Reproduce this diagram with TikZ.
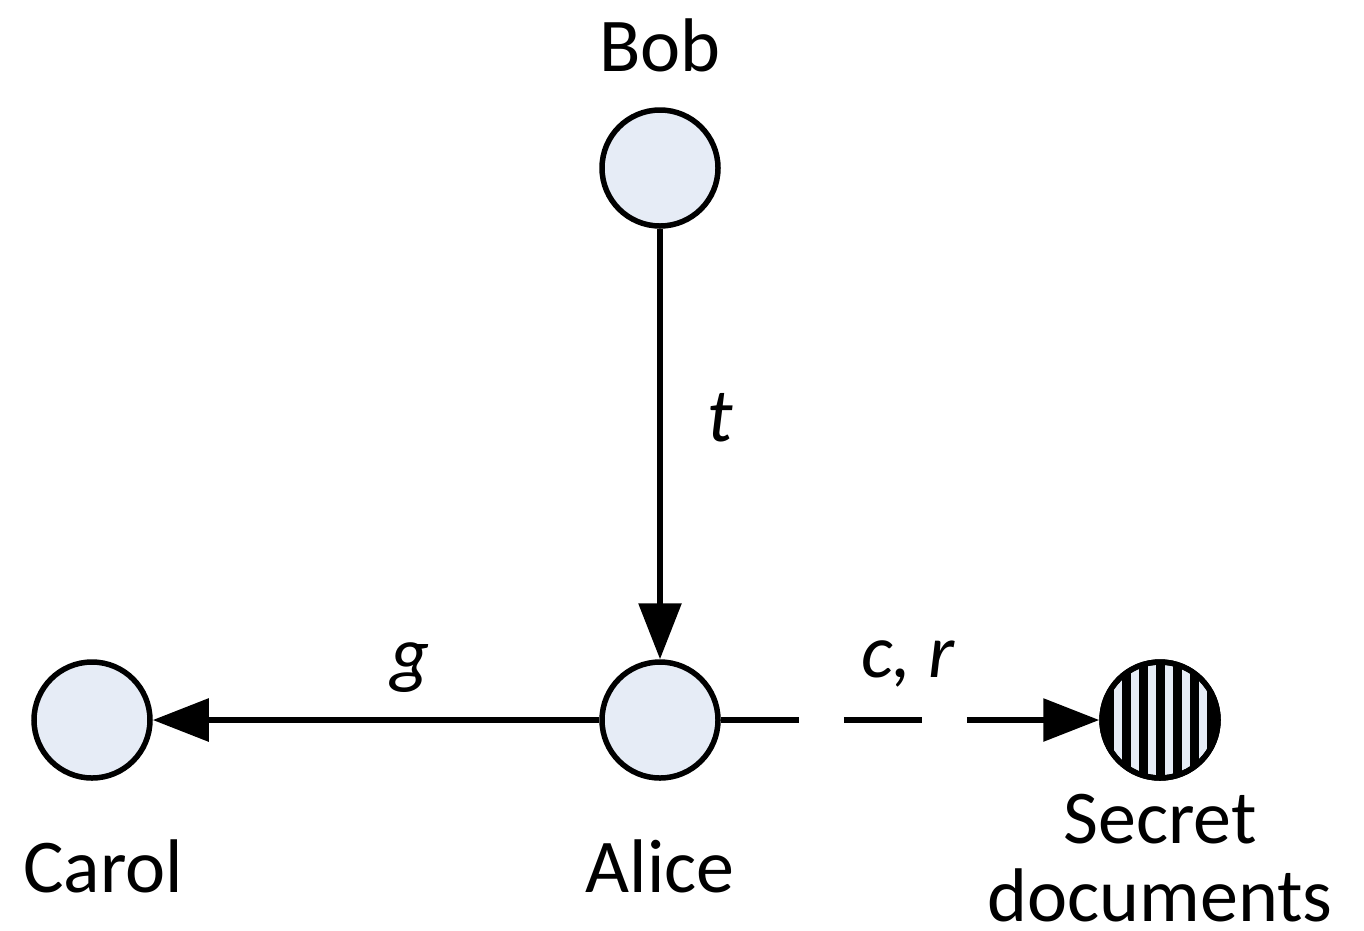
\documentclass[tikz,border=0pt]{standalone}
\usepackage{fontspec}
\setmainfont{Carlito}
\usetikzlibrary{arrows.meta,calc}
\definecolor{nodefill}{HTML}{E6ECF6}
\tikzset{
  party/.style={circle, draw=black, line width=5.5pt, fill=nodefill, minimum size=116pt, inner sep=0pt},
  partyname/.style={font=\fontsize{76}{84}\selectfont, align=center},
  edgelabel/.style={font=\fontsize{76}{84}\selectfont\itshape},
  flow/.style={line width=6pt, -{Triangle[length=56pt,width=42pt]}},
}
\begin{document}
\begin{tikzpicture}[x=1pt,y=-1pt]
  \useasboundingbox (0,0) rectangle (1364,930);
  % parties
  \node[party] (bob) at (660,168) {};
  \node[party] (alice) at (660,720) {};
  \node[party] (carol) at (92,720) {};
  \node[party] (secret) at (1160,720) {};
  % vertical hatching of the document node
  \begin{scope}
    \clip (secret.center) circle (58pt);
    \foreach \i in {-4,...,4}
      \draw[line width=9pt] ($(secret.center)+(\i*17,-70)$) -- ++(0,140);
  \end{scope}
  \draw[line width=5.5pt] (secret.center) circle (58pt);
  % names
  \node[partyname] (bobname) at (660,45) {Bob};
  \node[partyname] (carolname) at (103,866) {Carol};
  \node[partyname] (alicename) at (660,866) {Alice};
  \node[partyname, font=\fontsize{76}{78}\selectfont] (secretname) at (1160,858) {Secret\\documents};
  % relations
  \draw[flow] (bob) -- (alice);
  \draw[flow] (alice) -- (carol);
  \draw[flow, dash pattern=on 78pt off 45pt] (alice) -- (secret);
  \node[edgelabel] (tlab) at (720,418) {t};
  \node[edgelabel] (glab) at (410,668) {g};
  \node[edgelabel] (crlab) at (908,664) {c, r};
\end{tikzpicture}
\end{document}
